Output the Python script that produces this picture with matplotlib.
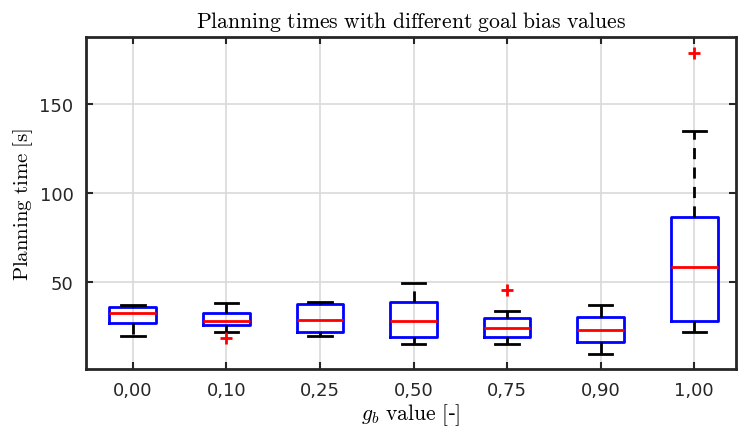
import matplotlib
matplotlib.use("Agg")
from matplotlib import pyplot as plt

plt.rcParams['mathtext.fontset'] = 'cm'

labels = ['0,00', '0,10', '0,25', '0,50', '0,75', '0,90', '1,00']
whislo = [19.7, 21.9, 19.7, 15.3, 15.3, 9.4, 22.1]
q1 = [27.0, 25.8, 21.7, 18.9, 18.9, 16.5, 28.1]
med = [32.4, 28.1, 28.7, 27.9, 24.3, 22.9, 58.6]
q3 = [35.8, 32.6, 37.6, 38.6, 29.8, 30.3, 86.3]
whishi = [37.1, 38.2, 38.6, 49.6, 33.5, 37.1, 134.7]
fliers = [[], [18.5], [], [], [45.7], [], [178.8]]

stats = []
for i in range(len(labels)):
    stats.append(dict(med=med[i], q1=q1[i], q3=q3[i], whislo=whislo[i],
                      whishi=whishi[i], fliers=fliers[i], label=labels[i]))

fig = plt.figure(figsize=(7.39, 4.27), dpi=100)
ax = fig.add_axes([0.1164, 0.1335, 0.880, 0.7775])

ax.bxp(stats, widths=0.5, capwidths=0.25, zorder=3,
       boxprops=dict(color='blue', linewidth=2),
       medianprops=dict(color='red', linewidth=2),
       whiskerprops=dict(color='black', linewidth=2, linestyle=(0, (4, 3))),
       capprops=dict(color='black', linewidth=2),
       flierprops=dict(marker='+', markeredgecolor='red', markersize=8, markeredgewidth=2))

ax.set_xlim(0.5, 7.45)
ax.set_ylim(1.2, 187.5)
ax.set_yticks([50, 100, 150])
ax.grid(True, color='#d9d9d9', linewidth=1.2, zorder=0)
ax.set_axisbelow(True)
ax.tick_params(direction='in', length=5, width=1.5, top=True, right=True,
               labelsize=13, colors='#262626', pad=9)
for s in ax.spines.values():
    s.set_linewidth(2)
    s.set_color('#262626')

ax.set_title(r'$\mathrm{Planning\ times\ with\ different\ goal\ bias\ values}$', fontsize=15.6, pad=7)
ax.set_ylabel(r'$\mathrm{Planning\ time\ [s]}$', fontsize=15, labelpad=3)
ax.set_xlabel(r'$g_b\ \mathrm{value\ [}$-$\mathrm{]}$', fontsize=15.5, labelpad=1)

fig.savefig('out.png', dpi=100)
